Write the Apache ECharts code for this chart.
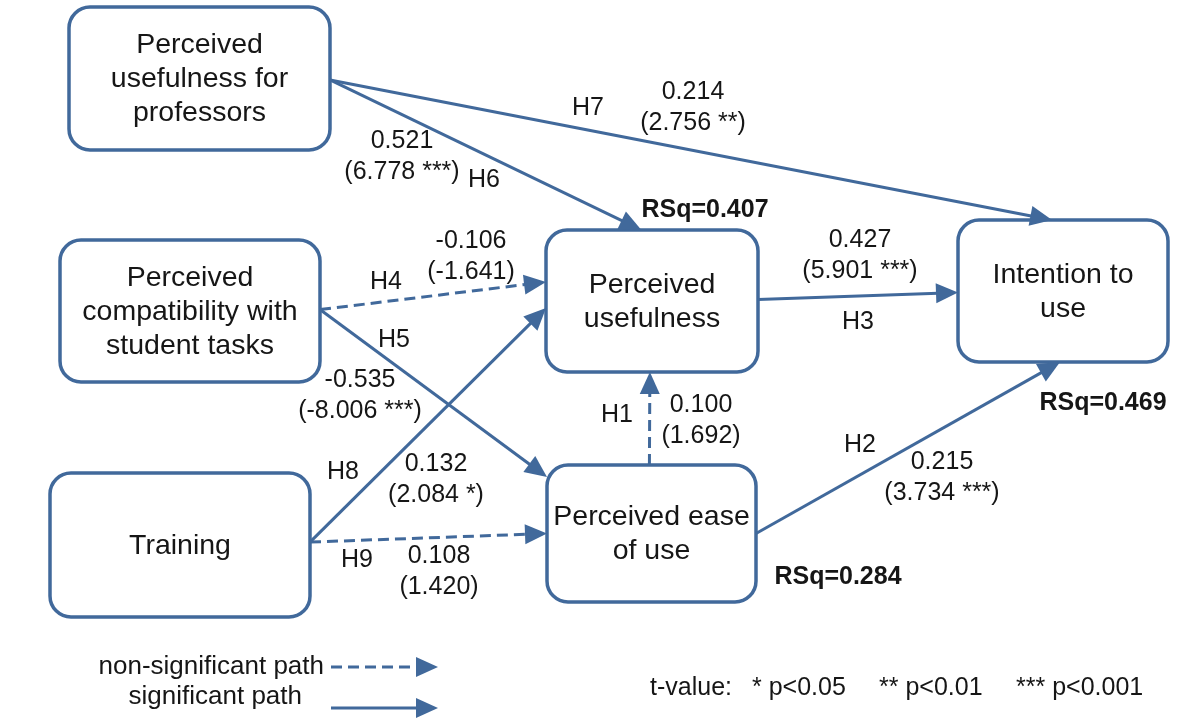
<!DOCTYPE html>
<html><head><meta charset="utf-8">
<script src="https://cdn.jsdelivr.net/npm/echarts@6/dist/echarts.min.js"></script>
<style>html,body{margin:0;padding:0;background:#fff}#c{width:1177px;height:723px}</style>
</head><body><div id="c"></div>
<script>
// ---------------- DATA ----------------
const NODE_KEYS = ['prof', 'comp', 'train', 'pu', 'peou', 'int'];
const NODE_LABELS = ['Perceived\nusefulness for\nprofessors', 'Perceived\ncompatibility with\nstudent tasks', 'Training', 'Perceived\nusefulness', 'Perceived ease\nof use', 'Intention to\nuse'];
const RSQ_NODES = ['pu', 'peou', 'int'];
const RSQ_VALUES = [0.407, 0.284, 0.469];
const PATH_IDS = ['H1', 'H2', 'H3', 'H4', 'H5', 'H6', 'H7', 'H8', 'H9'];
const PATH_FROM = ['peou', 'peou', 'pu', 'comp', 'comp', 'prof', 'prof', 'train', 'train'];
const PATH_TO = ['pu', 'int', 'int', 'pu', 'peou', 'pu', 'int', 'pu', 'peou'];
const PATH_COEF = [0.100, 0.215, 0.427, -0.106, -0.535, 0.521, 0.214, 0.132, 0.108];
const PATH_T = [1.692, 3.734, 5.901, -1.641, -8.006, 6.778, 2.756, 2.084, 1.420];
const PATH_STARS = ['', '***', '***', '', '***', '***', '**', '*', ''];
const LEGEND_LABELS = ['non-significant path', 'significant path'];
const NOTE_LABELS = ['t-value:', '* p<0.05', '** p<0.01', '*** p<0.001'];

// ---------------- LAYOUT (positions / styles) ----------------
const W = 1177, H = 723;
const BOX = { prof: [69, 7, 261, 143], comp: [60, 240, 260, 142], train: [50, 473, 260, 144], pu: [546, 230, 212, 142], peou: [547, 465, 209, 137], int: [958, 220, 210, 142] };
const ANCHOR = {
  H1: [['t', 0.49], ['b', 0.49]], H2: [['r', 0.5], ['b', 0.486]], H3: [['r', 0.49], ['l', 0.51]],
  H4: [['r', 0.49], ['l', 0.366]], H5: [['r', 0.49], ['l', 0.088]], H6: [['r', 0.51], ['t', 0.45]],
  H7: [['r', 0.51], ['t', 0.448]], H8: [['r', 0.48], ['l', 0.55]], H9: [['r', 0.48], ['l', 0.5]]
};
const LABEL_POS = {
  H1: { h: [617, 415], v: [701, 421] }, H2: { h: [860, 445], v: [942, 478] }, H3: { h: [858, 322], v: [860, 256] },
  H4: { h: [386, 282], v: [471, 257] }, H5: { h: [394, 340], v: [360, 396] }, H6: { h: [484, 180], v: [402, 157] },
  H7: { h: [588, 108], v: [693, 108] }, H8: { h: [343, 472], v: [436, 480] }, H9: { h: [357, 560], v: [439, 572] }
};
const RSQ_POS = { pu: [705, 210], peou: [838, 577], int: [1103, 403] };
const BLUE = '#41699b', INK = '#161616', FONT = '"Liberation Sans", Arial, sans-serif';
const ARROW_LEN = 22, ARROW_HALF = 10, LW = 3, DASH = [11, 6];

function anchorPoint(key, side, t) {
  const b = BOX[key];
  if (side === 'l') return [b[0], b[1] + b[3] * t];
  if (side === 'r') return [b[0] + b[2], b[1] + b[3] * t];
  if (side === 't') return [b[0] + b[2] * t, b[1]];
  return [b[0] + b[2] * t, b[1] + b[3]];
}
function arrowEls(p0, p1, dashed) {
  const dx = p1[0] - p0[0], dy = p1[1] - p0[1], len = Math.hypot(dx, dy);
  const ux = dx / len, uy = dy / len, nx = -uy, ny = ux;
  const bx = p1[0] - ux * ARROW_LEN, by = p1[1] - uy * ARROW_LEN;
  return [
    { type: 'line', shape: { x1: p0[0], y1: p0[1], x2: bx + ux * 2, y2: by + uy * 2 },
      style: { stroke: BLUE, lineWidth: LW, lineDash: dashed ? DASH : null, fill: null } },
    { type: 'polygon', shape: { points: [[p1[0], p1[1]], [bx + nx * ARROW_HALF, by + ny * ARROW_HALF], [bx - nx * ARROW_HALF, by - ny * ARROW_HALF]] },
      style: { fill: BLUE, stroke: null } }
  ];
}
function txt(text, x, y, size, opts) {
  return { type: 'text', style: Object.assign({ text: text, x: x, y: y, align: 'center', verticalAlign: 'middle',
    fontSize: size, fontFamily: FONT, fill: INK }, opts || {}) };
}

const chart = echarts.init(document.getElementById('c'), null, { renderer: 'canvas' });
chart.setOption({
  backgroundColor: '#ffffff',
  animation: false,
  grid: { left: 0, top: 0, right: 0, bottom: 0 },
  xAxis: { type: 'value', min: 0, max: W, show: false },
  yAxis: { type: 'value', min: 0, max: H, inverse: true, show: false },
  series: [
    { // construct boxes
      type: 'custom', coordinateSystem: 'cartesian2d', z: 2,
      data: NODE_KEYS.map((k, i) => [i]),
      renderItem: function (params, api) {
        const i = api.value(0), b = BOX[NODE_KEYS[i]];
        const a = api.coord([b[0], b[1]]), c = api.coord([b[0] + b[2], b[1] + b[3]]);
        return { type: 'group', children: [
          { type: 'rect', shape: { x: a[0], y: a[1], width: c[0] - a[0], height: c[1] - a[1], r: 21 },
            style: { fill: '#ffffff', stroke: BLUE, lineWidth: 3.5 } },
          txt(NODE_LABELS[i], (a[0] + c[0]) / 2, (a[1] + c[1]) / 2 + 1, 28.5, { lineHeight: 34 })
        ] };
      }
    },
    { // structural paths
      type: 'custom', coordinateSystem: 'cartesian2d', z: 3,
      data: PATH_IDS.map((h, i) => [i]),
      renderItem: function (params, api) {
        const i = api.value(0), id = PATH_IDS[i], an = ANCHOR[id];
        const p0 = api.coord(anchorPoint(PATH_FROM[i], an[0][0], an[0][1]));
        const p1 = api.coord(anchorPoint(PATH_TO[i], an[1][0], an[1][1]));
        const lp = LABEL_POS[id], hp = api.coord(lp.h), vp = api.coord(lp.v);
        const coefText = PATH_COEF[i].toFixed(3) + '\n(' + PATH_T[i].toFixed(3) + (PATH_STARS[i] ? ' ' + PATH_STARS[i] : '') + ')';
        return { type: 'group', children: arrowEls(p0, p1, PATH_STARS[i] === '').concat([
          txt(id, hp[0], hp[1], 25),
          txt(coefText, vp[0], vp[1], 25, { lineHeight: 31 })
        ]) };
      }
    },
    { // R-squared labels
      type: 'custom', coordinateSystem: 'cartesian2d', z: 4,
      data: RSQ_NODES.map((k, i) => [i, RSQ_VALUES[i]]),
      renderItem: function (params, api) {
        const i = api.value(0), p = api.coord(RSQ_POS[RSQ_NODES[i]]);
        return txt('RSq=' + api.value(1).toFixed(3), p[0], p[1], 25, { fontWeight: 'bold' });
      }
    }
  ],
  graphic: [
    txt(LEGEND_LABELS[0], 324, 667, 26, { align: 'right' }),
    txt(LEGEND_LABELS[1], 302, 697, 26, { align: 'right' }),
    { type: 'group', children: arrowEls([331, 667], [438, 667], true) },
    { type: 'group', children: arrowEls([331, 708], [438, 708], false) },
    txt(NOTE_LABELS[0], 650, 688, 25, { align: 'left' }),
    txt(NOTE_LABELS[1], 752, 688, 25, { align: 'left' }),
    txt(NOTE_LABELS[2], 879, 688, 25, { align: 'left' }),
    txt(NOTE_LABELS[3], 1016, 688, 25, { align: 'left' })
  ]
});
</script></body></html>
